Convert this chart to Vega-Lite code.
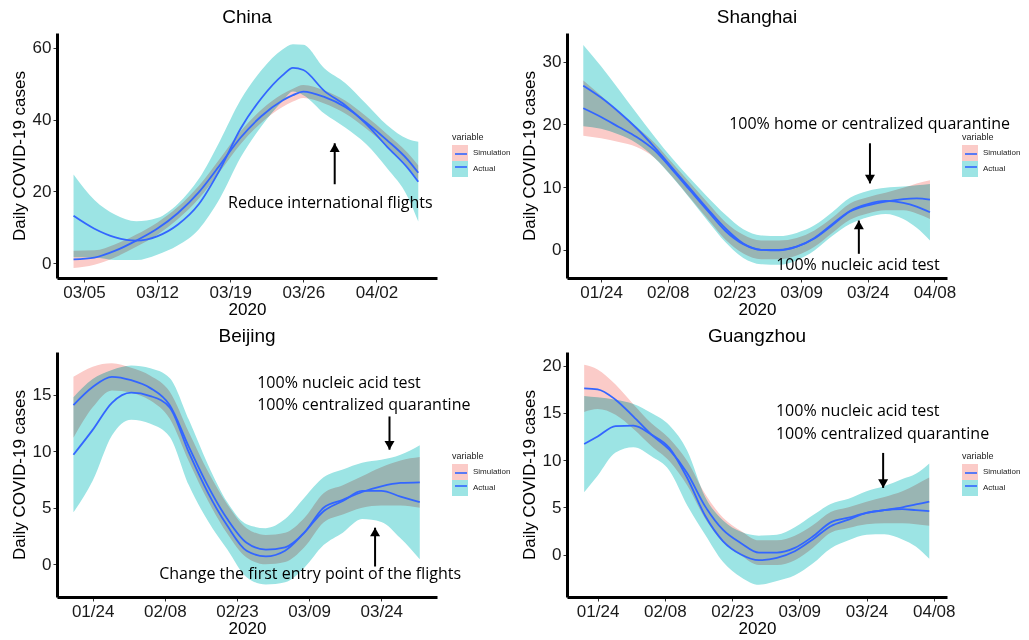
{
  "$schema": "https://vega.github.io/schema/vega-lite/v6.json",
  "padding": {"left": 10, "top": 8, "right": 5, "bottom": 5},
  "background": "white",
  "datasets": {
    "curves": [
      {"p":"C","d":"2020-03-04T00:00","v":"Simulation","y":1.1,"lo":-1.3,"hi":3.5},
      {"p":"C","d":"2020-03-06T00:00","v":"Simulation","y":1.6,"lo":-0.4,"hi":3.6},
      {"p":"C","d":"2020-03-08T00:00","v":"Simulation","y":3.5,"lo":1.7,"hi":5.3},
      {"p":"C","d":"2020-03-10T00:00","v":"Simulation","y":6.3,"lo":4.6,"hi":8.0},
      {"p":"C","d":"2020-03-12T00:00","v":"Simulation","y":9.6,"lo":7.9,"hi":11.3},
      {"p":"C","d":"2020-03-14T00:00","v":"Simulation","y":14.0,"lo":12.3,"hi":15.7},
      {"p":"C","d":"2020-03-16T00:00","v":"Simulation","y":19.8,"lo":18.0,"hi":21.6},
      {"p":"C","d":"2020-03-18T00:00","v":"Simulation","y":27.3,"lo":25.5,"hi":29.1},
      {"p":"C","d":"2020-03-20T00:00","v":"Simulation","y":35.0,"lo":33.2,"hi":36.8},
      {"p":"C","d":"2020-03-22T00:00","v":"Simulation","y":41.0,"lo":39.2,"hi":42.8},
      {"p":"C","d":"2020-03-24T00:00","v":"Simulation","y":45.3,"lo":43.5,"hi":47.1},
      {"p":"C","d":"2020-03-25T00:00","v":"Simulation","y":46.8,"lo":45.0,"hi":48.6},
      {"p":"C","d":"2020-03-26T00:00","v":"Simulation","y":47.8,"lo":46.0,"hi":49.6},
      {"p":"C","d":"2020-03-28T00:00","v":"Simulation","y":46.3,"lo":44.5,"hi":48.1},
      {"p":"C","d":"2020-03-30T00:00","v":"Simulation","y":43.5,"lo":41.7,"hi":45.3},
      {"p":"C","d":"2020-04-01T00:00","v":"Simulation","y":39.2,"lo":37.5,"hi":40.9},
      {"p":"C","d":"2020-04-03T00:00","v":"Simulation","y":34.3,"lo":32.6,"hi":36.0},
      {"p":"C","d":"2020-04-05T00:00","v":"Simulation","y":28.8,"lo":26.9,"hi":30.7},
      {"p":"C","d":"2020-04-06T00:00","v":"Simulation","y":25.2,"lo":23.2,"hi":27.2},
      {"p":"C","d":"2020-03-04T00:00","v":"Actual","y":13.2,"lo":1.7,"hi":24.7},
      {"p":"C","d":"2020-03-06T00:00","v":"Actual","y":9.6,"lo":1.6,"hi":17.6},
      {"p":"C","d":"2020-03-08T00:00","v":"Actual","y":7.2,"lo":0.9,"hi":13.5},
      {"p":"C","d":"2020-03-10T00:00","v":"Actual","y":6.3,"lo":0.9,"hi":11.7},
      {"p":"C","d":"2020-03-12T00:00","v":"Actual","y":7.5,"lo":2.4,"hi":12.6},
      {"p":"C","d":"2020-03-14T00:00","v":"Actual","y":10.8,"lo":5.0,"hi":16.6},
      {"p":"C","d":"2020-03-16T00:00","v":"Actual","y":16.5,"lo":9.5,"hi":23.5},
      {"p":"C","d":"2020-03-18T00:00","v":"Actual","y":26.0,"lo":18.0,"hi":34.0},
      {"p":"C","d":"2020-03-20T00:00","v":"Actual","y":37.5,"lo":29.5,"hi":45.5},
      {"p":"C","d":"2020-03-22T00:00","v":"Actual","y":46.0,"lo":38.2,"hi":53.8},
      {"p":"C","d":"2020-03-24T00:00","v":"Actual","y":52.3,"lo":45.1,"hi":59.5},
      {"p":"C","d":"2020-03-25T00:00","v":"Actual","y":54.4,"lo":47.8,"hi":61.0},
      {"p":"C","d":"2020-03-26T00:00","v":"Actual","y":53.8,"lo":46.8,"hi":60.8},
      {"p":"C","d":"2020-03-28T00:00","v":"Actual","y":48.0,"lo":41.7,"hi":54.3},
      {"p":"C","d":"2020-03-30T00:00","v":"Actual","y":44.0,"lo":37.8,"hi":50.2},
      {"p":"C","d":"2020-04-01T00:00","v":"Actual","y":38.8,"lo":33.2,"hi":44.4},
      {"p":"C","d":"2020-04-03T00:00","v":"Actual","y":32.5,"lo":26.5,"hi":38.5},
      {"p":"C","d":"2020-04-05T00:00","v":"Actual","y":26.5,"lo":18.4,"hi":34.6},
      {"p":"C","d":"2020-04-06T00:00","v":"Actual","y":22.7,"lo":11.6,"hi":33.8},

      {"p":"S","d":"2020-01-20T00:00","v":"Simulation","y":22.6,"lo":18.2,"hi":27.0},
      {"p":"S","d":"2020-01-24T00:00","v":"Simulation","y":21.2,"lo":17.8,"hi":24.6},
      {"p":"S","d":"2020-01-28T00:00","v":"Simulation","y":19.6,"lo":17.2,"hi":22.0},
      {"p":"S","d":"2020-02-01T00:00","v":"Simulation","y":18.0,"lo":16.4,"hi":19.6},
      {"p":"S","d":"2020-02-05T00:00","v":"Simulation","y":15.9,"lo":14.7,"hi":17.1},
      {"p":"S","d":"2020-02-09T00:00","v":"Simulation","y":12.8,"lo":11.7,"hi":13.9},
      {"p":"S","d":"2020-02-13T00:00","v":"Simulation","y":9.5,"lo":8.3,"hi":10.7},
      {"p":"S","d":"2020-02-17T00:00","v":"Simulation","y":6.2,"lo":4.9,"hi":7.5},
      {"p":"S","d":"2020-02-21T00:00","v":"Simulation","y":3.0,"lo":1.6,"hi":4.4},
      {"p":"S","d":"2020-02-25T00:00","v":"Simulation","y":0.9,"lo":-0.6,"hi":2.4},
      {"p":"S","d":"2020-02-29T00:00","v":"Simulation","y":0.0,"lo":-1.5,"hi":1.5},
      {"p":"S","d":"2020-03-04T00:00","v":"Simulation","y":0.0,"lo":-1.5,"hi":1.5},
      {"p":"S","d":"2020-03-08T00:00","v":"Simulation","y":0.5,"lo":-0.9,"hi":1.9},
      {"p":"S","d":"2020-03-12T00:00","v":"Simulation","y":1.8,"lo":0.5,"hi":3.1},
      {"p":"S","d":"2020-03-16T00:00","v":"Simulation","y":3.9,"lo":2.7,"hi":5.1},
      {"p":"S","d":"2020-03-20T00:00","v":"Simulation","y":6.1,"lo":4.8,"hi":7.4},
      {"p":"S","d":"2020-03-24T00:00","v":"Simulation","y":7.1,"lo":5.8,"hi":8.4},
      {"p":"S","d":"2020-03-28T00:00","v":"Simulation","y":7.7,"lo":6.3,"hi":9.1},
      {"p":"S","d":"2020-04-01T00:00","v":"Simulation","y":8.1,"lo":6.3,"hi":9.9},
      {"p":"S","d":"2020-04-04T00:00","v":"Simulation","y":8.2,"lo":5.8,"hi":10.6},
      {"p":"S","d":"2020-04-07T00:00","v":"Simulation","y":8.0,"lo":4.9,"hi":11.1},
      {"p":"S","d":"2020-01-20T00:00","v":"Actual","y":26.2,"lo":19.7,"hi":32.7},
      {"p":"S","d":"2020-01-24T00:00","v":"Actual","y":24.3,"lo":19.3,"hi":29.3},
      {"p":"S","d":"2020-01-28T00:00","v":"Actual","y":22.0,"lo":18.4,"hi":25.6},
      {"p":"S","d":"2020-02-01T00:00","v":"Actual","y":19.4,"lo":17.0,"hi":21.8},
      {"p":"S","d":"2020-02-05T00:00","v":"Actual","y":16.4,"lo":14.7,"hi":18.1},
      {"p":"S","d":"2020-02-09T00:00","v":"Actual","y":13.1,"lo":11.6,"hi":14.6},
      {"p":"S","d":"2020-02-13T00:00","v":"Actual","y":9.8,"lo":8.2,"hi":11.4},
      {"p":"S","d":"2020-02-17T00:00","v":"Actual","y":6.5,"lo":4.6,"hi":8.4},
      {"p":"S","d":"2020-02-21T00:00","v":"Actual","y":3.4,"lo":1.2,"hi":5.6},
      {"p":"S","d":"2020-02-25T00:00","v":"Actual","y":1.0,"lo":-1.3,"hi":3.3},
      {"p":"S","d":"2020-02-29T00:00","v":"Actual","y":0.0,"lo":-2.3,"hi":2.3},
      {"p":"S","d":"2020-03-04T00:00","v":"Actual","y":-0.1,"lo":-2.4,"hi":2.2},
      {"p":"S","d":"2020-03-08T00:00","v":"Actual","y":0.5,"lo":-1.7,"hi":2.7},
      {"p":"S","d":"2020-03-12T00:00","v":"Actual","y":1.9,"lo":-0.1,"hi":3.9},
      {"p":"S","d":"2020-03-16T00:00","v":"Actual","y":4.1,"lo":2.2,"hi":6.0},
      {"p":"S","d":"2020-03-20T00:00","v":"Actual","y":6.2,"lo":4.1,"hi":8.3},
      {"p":"S","d":"2020-03-24T00:00","v":"Actual","y":7.3,"lo":5.2,"hi":9.4},
      {"p":"S","d":"2020-03-28T00:00","v":"Actual","y":7.8,"lo":5.7,"hi":9.9},
      {"p":"S","d":"2020-04-01T00:00","v":"Actual","y":7.5,"lo":4.9,"hi":10.1},
      {"p":"S","d":"2020-04-04T00:00","v":"Actual","y":6.9,"lo":3.5,"hi":10.3},
      {"p":"S","d":"2020-04-07T00:00","v":"Actual","y":6.0,"lo":1.5,"hi":10.5},

      {"p":"B","d":"2020-01-20T00:00","v":"Simulation","y":14.1,"lo":11.2,"hi":16.6},
      {"p":"B","d":"2020-01-24T00:00","v":"Simulation","y":15.7,"lo":13.9,"hi":17.5},
      {"p":"B","d":"2020-01-28T00:00","v":"Simulation","y":16.6,"lo":15.4,"hi":17.8},
      {"p":"B","d":"2020-02-01T00:00","v":"Simulation","y":16.3,"lo":15.2,"hi":17.4},
      {"p":"B","d":"2020-02-05T00:00","v":"Simulation","y":15.6,"lo":14.5,"hi":16.7},
      {"p":"B","d":"2020-02-09T00:00","v":"Simulation","y":14.1,"lo":12.9,"hi":15.3},
      {"p":"B","d":"2020-02-13T00:00","v":"Simulation","y":10.4,"lo":9.1,"hi":11.7},
      {"p":"B","d":"2020-02-17T00:00","v":"Simulation","y":6.9,"lo":5.6,"hi":8.2},
      {"p":"B","d":"2020-02-21T00:00","v":"Simulation","y":4.0,"lo":2.7,"hi":5.3},
      {"p":"B","d":"2020-02-25T00:00","v":"Simulation","y":1.9,"lo":0.6,"hi":3.2},
      {"p":"B","d":"2020-02-29T00:00","v":"Simulation","y":1.3,"lo":0.0,"hi":2.6},
      {"p":"B","d":"2020-03-04T00:00","v":"Simulation","y":1.5,"lo":0.2,"hi":2.8},
      {"p":"B","d":"2020-03-08T00:00","v":"Simulation","y":2.8,"lo":1.5,"hi":4.1},
      {"p":"B","d":"2020-03-12T00:00","v":"Simulation","y":5.0,"lo":3.7,"hi":6.3},
      {"p":"B","d":"2020-03-16T00:00","v":"Simulation","y":5.7,"lo":4.4,"hi":7.0},
      {"p":"B","d":"2020-03-20T00:00","v":"Simulation","y":6.4,"lo":5.0,"hi":7.8},
      {"p":"B","d":"2020-03-24T00:00","v":"Simulation","y":6.9,"lo":5.2,"hi":8.6},
      {"p":"B","d":"2020-03-28T00:00","v":"Simulation","y":7.2,"lo":5.2,"hi":9.2},
      {"p":"B","d":"2020-04-01T00:00","v":"Simulation","y":7.26,"lo":5.0,"hi":9.5},
      {"p":"B","d":"2020-01-20T00:00","v":"Actual","y":9.7,"lo":4.6,"hi":14.8},
      {"p":"B","d":"2020-01-24T00:00","v":"Actual","y":11.9,"lo":7.4,"hi":16.4},
      {"p":"B","d":"2020-01-28T00:00","v":"Actual","y":14.3,"lo":11.4,"hi":17.2},
      {"p":"B","d":"2020-02-01T00:00","v":"Actual","y":15.2,"lo":12.8,"hi":17.6},
      {"p":"B","d":"2020-02-05T00:00","v":"Actual","y":14.9,"lo":12.45,"hi":17.35},
      {"p":"B","d":"2020-02-09T00:00","v":"Actual","y":13.9,"lo":11.3,"hi":16.5},
      {"p":"B","d":"2020-02-13T00:00","v":"Actual","y":9.9,"lo":7.0,"hi":12.8},
      {"p":"B","d":"2020-02-17T00:00","v":"Actual","y":6.3,"lo":3.8,"hi":8.8},
      {"p":"B","d":"2020-02-21T00:00","v":"Actual","y":3.4,"lo":1.3,"hi":5.5},
      {"p":"B","d":"2020-02-25T00:00","v":"Actual","y":1.2,"lo":-1.15,"hi":3.55},
      {"p":"B","d":"2020-02-29T00:00","v":"Actual","y":0.7,"lo":-1.8,"hi":3.2},
      {"p":"B","d":"2020-03-04T00:00","v":"Actual","y":1.2,"lo":-1.6,"hi":4.0},
      {"p":"B","d":"2020-03-08T00:00","v":"Actual","y":2.8,"lo":-0.3,"hi":5.9},
      {"p":"B","d":"2020-03-12T00:00","v":"Actual","y":4.7,"lo":1.7,"hi":7.7},
      {"p":"B","d":"2020-03-16T00:00","v":"Actual","y":5.6,"lo":2.8,"hi":8.4},
      {"p":"B","d":"2020-03-20T00:00","v":"Actual","y":6.5,"lo":4.0,"hi":9.0},
      {"p":"B","d":"2020-03-24T00:00","v":"Actual","y":6.5,"lo":3.75,"hi":9.25},
      {"p":"B","d":"2020-03-28T00:00","v":"Actual","y":6.0,"lo":2.3,"hi":9.7},
      {"p":"B","d":"2020-04-01T00:00","v":"Actual","y":5.5,"lo":0.45,"hi":10.55},

      {"p":"G","d":"2020-01-21T00:00","v":"Simulation","y":17.6,"lo":15.1,"hi":20.1},
      {"p":"G","d":"2020-01-24T00:00","v":"Simulation","y":17.5,"lo":15.4,"hi":19.6},
      {"p":"G","d":"2020-01-28T00:00","v":"Simulation","y":16.4,"lo":14.8,"hi":18.0},
      {"p":"G","d":"2020-02-01T00:00","v":"Simulation","y":14.6,"lo":13.3,"hi":15.9},
      {"p":"G","d":"2020-02-05T00:00","v":"Simulation","y":12.7,"lo":11.5,"hi":13.9},
      {"p":"G","d":"2020-02-09T00:00","v":"Simulation","y":11.1,"lo":9.9,"hi":12.3},
      {"p":"G","d":"2020-02-13T00:00","v":"Simulation","y":8.6,"lo":7.3,"hi":9.9},
      {"p":"G","d":"2020-02-17T00:00","v":"Simulation","y":5.1,"lo":3.8,"hi":6.4},
      {"p":"G","d":"2020-02-21T00:00","v":"Simulation","y":2.6,"lo":1.3,"hi":3.9},
      {"p":"G","d":"2020-02-25T00:00","v":"Simulation","y":1.2,"lo":-0.1,"hi":2.5},
      {"p":"G","d":"2020-02-29T00:00","v":"Simulation","y":0.2,"lo":-1.1,"hi":1.5},
      {"p":"G","d":"2020-03-04T00:00","v":"Simulation","y":0.2,"lo":-1.1,"hi":1.5},
      {"p":"G","d":"2020-03-08T00:00","v":"Simulation","y":0.7,"lo":-0.6,"hi":2.0},
      {"p":"G","d":"2020-03-12T00:00","v":"Simulation","y":1.9,"lo":0.7,"hi":3.1},
      {"p":"G","d":"2020-03-16T00:00","v":"Simulation","y":3.4,"lo":2.3,"hi":4.5},
      {"p":"G","d":"2020-03-20T00:00","v":"Simulation","y":3.9,"lo":2.8,"hi":5.0},
      {"p":"G","d":"2020-03-24T00:00","v":"Simulation","y":4.4,"lo":3.2,"hi":5.6},
      {"p":"G","d":"2020-03-28T00:00","v":"Simulation","y":4.7,"lo":3.3,"hi":6.1},
      {"p":"G","d":"2020-04-01T00:00","v":"Simulation","y":5.0,"lo":3.3,"hi":6.7},
      {"p":"G","d":"2020-04-04T00:00","v":"Simulation","y":5.3,"lo":3.2,"hi":7.4},
      {"p":"G","d":"2020-04-07T00:00","v":"Simulation","y":5.6,"lo":3.05,"hi":8.15},
      {"p":"G","d":"2020-01-21T00:00","v":"Actual","y":11.7,"lo":6.6,"hi":16.8},
      {"p":"G","d":"2020-01-24T00:00","v":"Actual","y":12.5,"lo":8.35,"hi":16.65},
      {"p":"G","d":"2020-01-28T00:00","v":"Actual","y":13.6,"lo":10.8,"hi":16.4},
      {"p":"G","d":"2020-02-01T00:00","v":"Actual","y":13.65,"lo":11.35,"hi":15.95},
      {"p":"G","d":"2020-02-05T00:00","v":"Actual","y":12.7,"lo":10.4,"hi":15.0},
      {"p":"G","d":"2020-02-09T00:00","v":"Actual","y":11.3,"lo":8.9,"hi":13.7},
      {"p":"G","d":"2020-02-13T00:00","v":"Actual","y":8.1,"lo":5.2,"hi":11.0},
      {"p":"G","d":"2020-02-17T00:00","v":"Actual","y":4.1,"lo":2.1,"hi":6.1},
      {"p":"G","d":"2020-02-21T00:00","v":"Actual","y":1.4,"lo":-0.8,"hi":3.6},
      {"p":"G","d":"2020-02-25T00:00","v":"Actual","y":0.0,"lo":-2.4,"hi":2.4},
      {"p":"G","d":"2020-02-29T00:00","v":"Actual","y":-0.6,"lo":-3.2,"hi":2.0},
      {"p":"G","d":"2020-03-04T00:00","v":"Actual","y":-0.35,"lo":-2.8,"hi":2.1},
      {"p":"G","d":"2020-03-08T00:00","v":"Actual","y":0.35,"lo":-2.2,"hi":2.9},
      {"p":"G","d":"2020-03-12T00:00","v":"Actual","y":1.6,"lo":-0.95,"hi":4.15},
      {"p":"G","d":"2020-03-16T00:00","v":"Actual","y":3.0,"lo":0.65,"hi":5.35},
      {"p":"G","d":"2020-03-20T00:00","v":"Actual","y":3.7,"lo":1.5,"hi":5.9},
      {"p":"G","d":"2020-03-24T00:00","v":"Actual","y":4.4,"lo":2.1,"hi":6.7},
      {"p":"G","d":"2020-03-28T00:00","v":"Actual","y":4.7,"lo":2.15,"hi":7.25},
      {"p":"G","d":"2020-04-01T00:00","v":"Actual","y":4.8,"lo":1.6,"hi":8.0},
      {"p":"G","d":"2020-04-04T00:00","v":"Actual","y":4.7,"lo":0.85,"hi":8.55},
      {"p":"G","d":"2020-04-07T00:00","v":"Actual","y":4.6,"lo":-0.45,"hi":9.65}
    ],
    "arrows": [
      {"p":"C","d":"2020-03-29T00:00","y":22,"y2":33.4,"dir":"up"},
      {"p":"S","d":"2020-03-24T12:00","y":17.0,"y2":10.6,"dir":"down"},
      {"p":"S","d":"2020-03-22T00:00","y":-0.64,"y2":4.67,"dir":"up"},
      {"p":"B","d":"2020-03-25T17:00","y":13.09,"y2":10.15,"dir":"down"},
      {"p":"B","d":"2020-03-22T17:00","y":-0.2,"y2":3.24,"dir":"up"},
      {"p":"G","d":"2020-03-27T17:00","y":10.76,"y2":7.06,"dir":"down"}
    ],
    "notes": [
      {"p":"C","d":"2020-03-28T14:00","y":16.9,"t":"Reduce international flights","a":"center"},
      {"p":"S","d":"2020-03-24T10:00","y":20.1,"t":"100% home or centralized quarantine","a":"center"},
      {"p":"S","d":"2020-03-21T19:00","y":-2.4,"t":"100% nucleic acid test","a":"center"},
      {"p":"B","d":"2020-02-27T05:00","y":16.09,"t":"100% nucleic acid test","a":"left"},
      {"p":"B","d":"2020-02-27T05:00","y":14.12,"t":"100% centralized quarantine","a":"left"},
      {"p":"B","d":"2020-03-09T05:00","y":-0.88,"t":"Change the first entry point of the flights","a":"center"},
      {"p":"G","d":"2020-03-03T19:00","y":15.16,"t":"100% nucleic acid test","a":"left"},
      {"p":"G","d":"2020-03-03T19:00","y":12.8,"t":"100% centralized quarantine","a":"left"}
    ]
  },
  "columns": 2,
  "spacing": {"row": 74, "column": 130},
  "bounds": "flush",
  "concat": [
    {
      "width": 380, "height": 245,
      "title": "China",
      "layer": [
        {"data": {"name": "curves"}, "transform": [{"filter": "datum.p === 'C'"}],
         "mark": {"type": "area", "interpolate": "monotone", "blend": "multiply"},
         "encoding": {
           "x": {"field": "d", "type": "temporal", "title": "2020", "scale": {"domain": [{"year":2020,"month":3,"date":2,"hours":10},{"year":2020,"month":4,"date":7,"hours":19}]},
                 "axis": {"format": "%m/%d", "values": [{"year":2020,"month":3,"date":5},{"year":2020,"month":3,"date":12},{"year":2020,"month":3,"date":19},{"year":2020,"month":3,"date":26},{"year":2020,"month":4,"date":2}]}},
           "y": {"field": "lo", "type": "quantitative", "title": "Daily COVID-19 cases", "scale": {"domain": [-4.1, 64.1], "nice": false, "zero": false},
                 "axis": {"values": [0, 20, 40, 60]}},
           "y2": {"field": "hi"},
           "fill": {"field": "v", "type": "nominal", "scale": {"domain": ["Simulation", "Actual"], "range": ["#FBCBC8", "#9CE4E4"]}, "legend": {"title": "variable"}}
         }},
        {"data": {"name": "curves"}, "transform": [{"filter": "datum.p === 'C'"}],
         "mark": {"type": "line", "interpolate": "monotone", "strokeWidth": 1.8},
         "encoding": {
           "x": {"field": "d", "type": "temporal", "title": "2020"},
           "y": {"field": "y", "type": "quantitative", "title": "Daily COVID-19 cases"},
           "stroke": {"field": "v", "type": "nominal", "scale": {"domain": ["Simulation", "Actual", "none"], "range": ["#3366FF", "#3366FF", "#3366FF"]},
                      "legend": {"values": ["Simulation", "Actual"], "title": null, "labelExpr": "''", "legendY": 112, "symbolType": "M-0.75,0H0.75", "symbolStrokeWidth": 1.6, "symbolStrokeColor": "#3366FF"}}
         }},
        {"data": {"name": "arrows"}, "transform": [{"filter": "datum.p === 'C'"}],
         "mark": {"type": "rule", "strokeWidth": 2, "color": "black"},
         "encoding": {"x": {"field": "d", "type": "temporal", "title": "2020"}, "y": {"field": "y", "type": "quantitative", "title": "Daily COVID-19 cases"}, "y2": {"field": "y2"}}},
        {"data": {"name": "arrows"}, "transform": [{"filter": "datum.p === 'C' && datum.dir === 'up'"}],
         "mark": {"type": "point", "shape": "triangle-up", "filled": true, "color": "black", "opacity": 1, "size": 100, "yOffset": 4.3},
         "encoding": {"x": {"field": "d", "type": "temporal", "title": "2020"}, "y": {"field": "y2", "type": "quantitative", "title": "Daily COVID-19 cases"}}},
        {"data": {"name": "notes"}, "transform": [{"filter": "datum.p === 'C'"}],
         "mark": {"type": "text", "font": "Open Sans", "fontSize": 16, "color": "black", "align": "center", "baseline": "middle"},
         "encoding": {"x": {"field": "d", "type": "temporal", "title": "2020"}, "y": {"field": "y", "type": "quantitative", "title": "Daily COVID-19 cases"}, "text": {"field": "t"}}}
      ]
    },
    {
      "width": 380, "height": 245,
      "title": "Shanghai",
      "layer": [
        {"data": {"name": "curves"}, "transform": [{"filter": "datum.p === 'S'"}],
         "mark": {"type": "area", "interpolate": "monotone", "blend": "multiply"},
         "encoding": {
           "x": {"field": "d", "type": "temporal", "title": "2020", "scale": {"domain": [{"year":2020,"month":1,"date":16,"hours":8},{"year":2020,"month":4,"date":10,"hours":20}]},
                 "axis": {"format": "%m/%d", "values": [{"year":2020,"month":1,"date":24},{"year":2020,"month":2,"date":8},{"year":2020,"month":2,"date":23},{"year":2020,"month":3,"date":9},{"year":2020,"month":3,"date":24},{"year":2020,"month":4,"date":8}]}},
           "y": {"field": "lo", "type": "quantitative", "title": "Daily COVID-19 cases", "scale": {"domain": [-4.5, 34.6], "nice": false, "zero": false},
                 "axis": {"values": [0, 10, 20, 30]}},
           "y2": {"field": "hi"},
           "fill": {"field": "v", "type": "nominal", "scale": {"domain": ["Simulation", "Actual"], "range": ["#FBCBC8", "#9CE4E4"]}, "legend": {"title": "variable"}}
         }},
        {"data": {"name": "curves"}, "transform": [{"filter": "datum.p === 'S'"}],
         "mark": {"type": "line", "interpolate": "monotone", "strokeWidth": 1.8},
         "encoding": {
           "x": {"field": "d", "type": "temporal", "title": "2020"},
           "y": {"field": "y", "type": "quantitative", "title": "Daily COVID-19 cases"},
           "stroke": {"field": "v", "type": "nominal", "scale": {"domain": ["Simulation", "Actual", "none"], "range": ["#3366FF", "#3366FF", "#3366FF"]},
                      "legend": {"values": ["Simulation", "Actual"], "title": null, "labelExpr": "''", "legendY": 112, "symbolType": "M-0.75,0H0.75", "symbolStrokeWidth": 1.6, "symbolStrokeColor": "#3366FF"}}
         }},
        {"data": {"name": "arrows"}, "transform": [{"filter": "datum.p === 'S'"}],
         "mark": {"type": "rule", "strokeWidth": 2, "color": "black"},
         "encoding": {"x": {"field": "d", "type": "temporal", "title": "2020"}, "y": {"field": "y", "type": "quantitative", "title": "Daily COVID-19 cases"}, "y2": {"field": "y2"}}},
        {"data": {"name": "arrows"}, "transform": [{"filter": "datum.p === 'S' && datum.dir === 'up'"}],
         "mark": {"type": "point", "shape": "triangle-up", "filled": true, "color": "black", "opacity": 1, "size": 100, "yOffset": 4.3},
         "encoding": {"x": {"field": "d", "type": "temporal", "title": "2020"}, "y": {"field": "y2", "type": "quantitative", "title": "Daily COVID-19 cases"}}},
        {"data": {"name": "arrows"}, "transform": [{"filter": "datum.p === 'S' && datum.dir === 'down'"}],
         "mark": {"type": "point", "shape": "triangle-down", "filled": true, "color": "black", "opacity": 1, "size": 100, "yOffset": -4.3},
         "encoding": {"x": {"field": "d", "type": "temporal", "title": "2020"}, "y": {"field": "y2", "type": "quantitative", "title": "Daily COVID-19 cases"}}},
        {"data": {"name": "notes"}, "transform": [{"filter": "datum.p === 'S'"}],
         "mark": {"type": "text", "font": "Open Sans", "fontSize": 16, "color": "black", "align": "center", "baseline": "middle"},
         "encoding": {"x": {"field": "d", "type": "temporal", "title": "2020"}, "y": {"field": "y", "type": "quantitative", "title": "Daily COVID-19 cases"}, "text": {"field": "t"}}}
      ]
    },
    {
      "width": 380, "height": 245,
      "title": "Beijing",
      "layer": [
        {"data": {"name": "curves"}, "transform": [{"filter": "datum.p === 'B'"}],
         "mark": {"type": "area", "interpolate": "monotone", "blend": "multiply"},
         "encoding": {
           "x": {"field": "d", "type": "temporal", "title": "2020", "scale": {"domain": [{"year":2020,"month":1,"date":16,"hours":14},{"year":2020,"month":4,"date":4,"hours":14}]},
                 "axis": {"format": "%m/%d", "values": [{"year":2020,"month":1,"date":24},{"year":2020,"month":2,"date":8},{"year":2020,"month":2,"date":23},{"year":2020,"month":3,"date":9},{"year":2020,"month":3,"date":24}]}},
           "y": {"field": "lo", "type": "quantitative", "title": "Daily COVID-19 cases", "scale": {"domain": [-2.9, 18.8], "nice": false, "zero": false},
                 "axis": {"values": [0, 5, 10, 15]}},
           "y2": {"field": "hi"},
           "fill": {"field": "v", "type": "nominal", "scale": {"domain": ["Simulation", "Actual"], "range": ["#FBCBC8", "#9CE4E4"]}, "legend": {"title": "variable"}}
         }},
        {"data": {"name": "curves"}, "transform": [{"filter": "datum.p === 'B'"}],
         "mark": {"type": "line", "interpolate": "monotone", "strokeWidth": 1.8},
         "encoding": {
           "x": {"field": "d", "type": "temporal", "title": "2020"},
           "y": {"field": "y", "type": "quantitative", "title": "Daily COVID-19 cases"},
           "stroke": {"field": "v", "type": "nominal", "scale": {"domain": ["Simulation", "Actual", "none"], "range": ["#3366FF", "#3366FF", "#3366FF"]},
                      "legend": {"values": ["Simulation", "Actual"], "title": null, "labelExpr": "''", "legendY": 112, "symbolType": "M-0.75,0H0.75", "symbolStrokeWidth": 1.6, "symbolStrokeColor": "#3366FF"}}
         }},
        {"data": {"name": "arrows"}, "transform": [{"filter": "datum.p === 'B'"}],
         "mark": {"type": "rule", "strokeWidth": 2, "color": "black"},
         "encoding": {"x": {"field": "d", "type": "temporal", "title": "2020"}, "y": {"field": "y", "type": "quantitative", "title": "Daily COVID-19 cases"}, "y2": {"field": "y2"}}},
        {"data": {"name": "arrows"}, "transform": [{"filter": "datum.p === 'B' && datum.dir === 'up'"}],
         "mark": {"type": "point", "shape": "triangle-up", "filled": true, "color": "black", "opacity": 1, "size": 100, "yOffset": 4.3},
         "encoding": {"x": {"field": "d", "type": "temporal", "title": "2020"}, "y": {"field": "y2", "type": "quantitative", "title": "Daily COVID-19 cases"}}},
        {"data": {"name": "arrows"}, "transform": [{"filter": "datum.p === 'B' && datum.dir === 'down'"}],
         "mark": {"type": "point", "shape": "triangle-down", "filled": true, "color": "black", "opacity": 1, "size": 100, "yOffset": -4.3},
         "encoding": {"x": {"field": "d", "type": "temporal", "title": "2020"}, "y": {"field": "y2", "type": "quantitative", "title": "Daily COVID-19 cases"}}},
        {"data": {"name": "notes"}, "transform": [{"filter": "datum.p === 'B' && datum.a === 'center'"}],
         "mark": {"type": "text", "font": "Open Sans", "fontSize": 16, "color": "black", "align": "center", "baseline": "middle"},
         "encoding": {"x": {"field": "d", "type": "temporal", "title": "2020"}, "y": {"field": "y", "type": "quantitative", "title": "Daily COVID-19 cases"}, "text": {"field": "t"}}},
        {"data": {"name": "notes"}, "transform": [{"filter": "datum.p === 'B' && datum.a === 'left'"}],
         "mark": {"type": "text", "font": "Open Sans", "fontSize": 16, "color": "black", "align": "left", "baseline": "middle"},
         "encoding": {"x": {"field": "d", "type": "temporal", "title": "2020"}, "y": {"field": "y", "type": "quantitative", "title": "Daily COVID-19 cases"}, "text": {"field": "t"}}}
      ]
    },
    {
      "width": 380, "height": 245,
      "title": "Guangzhou",
      "layer": [
        {"data": {"name": "curves"}, "transform": [{"filter": "datum.p === 'G'"}],
         "mark": {"type": "area", "interpolate": "monotone", "blend": "multiply"},
         "encoding": {
           "x": {"field": "d", "type": "temporal", "title": "2020", "scale": {"domain": [{"year":2020,"month":1,"date":17,"hours":4},{"year":2020,"month":4,"date":10,"hours":23}]},
                 "axis": {"format": "%m/%d", "values": [{"year":2020,"month":1,"date":24},{"year":2020,"month":2,"date":8},{"year":2020,"month":2,"date":23},{"year":2020,"month":3,"date":9},{"year":2020,"month":3,"date":24},{"year":2020,"month":4,"date":8}]}},
           "y": {"field": "lo", "type": "quantitative", "title": "Daily COVID-19 cases", "scale": {"domain": [-4.5, 21.45], "nice": false, "zero": false},
                 "axis": {"values": [0, 5, 10, 15, 20]}},
           "y2": {"field": "hi"},
           "fill": {"field": "v", "type": "nominal", "scale": {"domain": ["Simulation", "Actual"], "range": ["#FBCBC8", "#9CE4E4"]}, "legend": {"title": "variable"}}
         }},
        {"data": {"name": "curves"}, "transform": [{"filter": "datum.p === 'G'"}],
         "mark": {"type": "line", "interpolate": "monotone", "strokeWidth": 1.8},
         "encoding": {
           "x": {"field": "d", "type": "temporal", "title": "2020"},
           "y": {"field": "y", "type": "quantitative", "title": "Daily COVID-19 cases"},
           "stroke": {"field": "v", "type": "nominal", "scale": {"domain": ["Simulation", "Actual", "none"], "range": ["#3366FF", "#3366FF", "#3366FF"]},
                      "legend": {"values": ["Simulation", "Actual"], "title": null, "labelExpr": "''", "legendY": 112, "symbolType": "M-0.75,0H0.75", "symbolStrokeWidth": 1.6, "symbolStrokeColor": "#3366FF"}}
         }},
        {"data": {"name": "arrows"}, "transform": [{"filter": "datum.p === 'G'"}],
         "mark": {"type": "rule", "strokeWidth": 2, "color": "black"},
         "encoding": {"x": {"field": "d", "type": "temporal", "title": "2020"}, "y": {"field": "y", "type": "quantitative", "title": "Daily COVID-19 cases"}, "y2": {"field": "y2"}}},
        {"data": {"name": "arrows"}, "transform": [{"filter": "datum.p === 'G' && datum.dir === 'down'"}],
         "mark": {"type": "point", "shape": "triangle-down", "filled": true, "color": "black", "opacity": 1, "size": 100, "yOffset": -4.3},
         "encoding": {"x": {"field": "d", "type": "temporal", "title": "2020"}, "y": {"field": "y2", "type": "quantitative", "title": "Daily COVID-19 cases"}}},
        {"data": {"name": "notes"}, "transform": [{"filter": "datum.p === 'G'"}],
         "mark": {"type": "text", "font": "Open Sans", "fontSize": 16, "color": "black", "align": "left", "baseline": "middle"},
         "encoding": {"x": {"field": "d", "type": "temporal", "title": "2020"}, "y": {"field": "y", "type": "quantitative", "title": "Daily COVID-19 cases"}, "text": {"field": "t"}}}
      ]
    }
  ],
  "resolve": {
    "scale": {"x": "independent", "y": "independent", "fill": "independent", "stroke": "independent"},
    "axis": {"x": "independent", "y": "independent"},
    "legend": {"fill": "independent", "stroke": "independent"}
  },
  "config": {
    "view": {"stroke": null},
    "font": "Liberation Sans",
    "axis": {"grid": false, "domainColor": "black", "domainWidth": 3, "tickColor": "#333333", "tickSize": 4, "tickWidth": 1,
             "labelFont": "Liberation Sans", "labelFontSize": 17, "labelColor": "#1a1a1a", "labelPadding": 2, "labelOverlap": false, "labelFlush": false,
             "titleFont": "Liberation Sans", "titleFontSize": 17, "titleFontWeight": "normal", "titleColor": "#000000"},
    "axisX": {"titlePadding": 1},
    "axisY": {"titlePadding": 4},
    "title": {"font": "Liberation Sans", "fontSize": 19, "fontWeight": "normal", "anchor": "middle", "frame": "group", "offset": 6, "color": "#000000"},
    "legend": {"orient": "none", "legendX": 395, "legendY": 100, "padding": 0, "titleFont": "Liberation Sans", "titleFontSize": 9, "titleFontWeight": "normal", "titleColor": "#222222", "titlePadding": 3,
               "labelFont": "Liberation Sans", "labelFontSize": 8, "labelColor": "#222222", "labelOffset": 5, "symbolType": "square", "symbolSize": 256, "rowPadding": 0, "symbolStrokeWidth": 0, "symbolOpacity": 1}
  }
}
